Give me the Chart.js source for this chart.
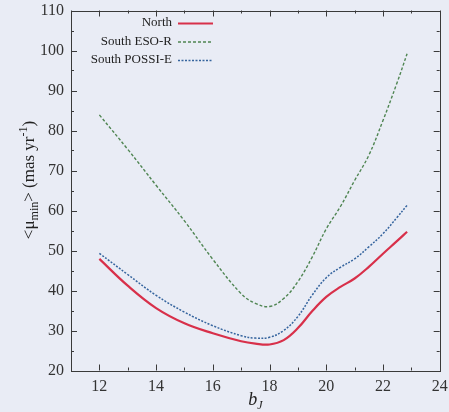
<!DOCTYPE html>
<html>
<head>
<meta charset="utf-8">
<script src="https://cdn.jsdelivr.net/npm/chart.js@4"></script>
<style>
  html, body { margin: 0; padding: 0; background: #e9ecf5; }
  #wrap { width: 449px; height: 412px; }
</style>
</head>
<body>
<div id="wrap"><canvas id="chart" width="449" height="412"></canvas></div>
<script>
// magnitude bins (b_J) and mean minimum proper motion for each survey
const bJ = [12, 13, 14, 15, 16, 17, 17.5, 18, 18.5, 19, 19.5, 20, 20.5, 21, 21.5, 22, 22.5, 22.85];
const north = [47.9, 41.2, 35.6, 31.8, 29.3, 27.3, 26.7, 26.5, 27.6, 30.6, 34.8, 38.4, 40.9, 43.0, 45.9, 49.2, 52.4, 54.7];
const southEsoR = [83.9, 75.3, 66.3, 57.4, 47.8, 39.2, 36.8, 36.0, 38.0, 42.2, 48.3, 55.4, 61.0, 67.5, 73.8, 82.5, 92.0, 99.2];
const southPossiE = [49.3, 44.0, 38.8, 34.6, 31.2, 28.7, 28.1, 28.3, 30.0, 33.5, 38.8, 43.2, 45.8, 47.9, 50.9, 54.2, 58.3, 61.3];
const xTicks = [12, 14, 16, 18, 20, 22, 24];
const yTicks = [20, 30, 40, 50, 60, 70, 80, 90, 100, 110];

const serif = '"Liberation Serif", "Times New Roman", Times, serif';
const axisColor = '#3a3a3a';

const toPoints = (ys) => ys.map((y, i) => ({ x: bJ[i], y }));

// gnuplot-like frame with inward ticks on all four sides
const framePlugin = {
  id: 'frame',
  afterDraw(chart) {
    const { ctx, chartArea: a, scales } = chart;
    ctx.save();
    ctx.strokeStyle = axisColor;
    ctx.lineWidth = 1;
    ctx.strokeRect(Math.round(a.left) + 0.5, Math.round(a.top) + 0.5,
      Math.round(a.right - a.left), Math.round(a.bottom - a.top));
    ctx.beginPath();
    for (let v = 11; v <= 24; v += 1) {
      const px = Math.round(scales.x.getPixelForValue(v)) + 0.5;
      const len = v % 2 === 0 ? 6 : 3;
      ctx.moveTo(px, a.bottom); ctx.lineTo(px, a.bottom - len);
      ctx.moveTo(px, a.top); ctx.lineTo(px, a.top + len);
    }
    for (let v = 20; v <= 110; v += 5) {
      const py = Math.round(scales.y.getPixelForValue(v)) + 0.5;
      const len = v % 10 === 0 ? 6 : 3;
      ctx.moveTo(a.left, py); ctx.lineTo(a.left + len, py);
      ctx.moveTo(a.right, py); ctx.lineTo(a.right - len, py);
    }
    ctx.stroke();
    ctx.restore();
  }
};

// axis titles with sub/superscripts, and a right-aligned key
const textPlugin = {
  id: 'texts',
  afterDraw(chart) {
    const { ctx, chartArea: a } = chart;
    ctx.save();
    ctx.fillStyle = '#222';
    ctx.textBaseline = 'alphabetic';

    // y title: <μ_min> (mas yr^-1)
    const parts = [
      { t: '<\u03bc', size: 17, dy: 0 },
      { t: 'min', size: 12, dy: 4 },
      { t: '> (mas yr', size: 17, dy: 0 },
      { t: '-1', size: 12, dy: -7 },
      { t: ')', size: 17, dy: 0 }
    ];
    let total = 0;
    parts.forEach((p) => { ctx.font = `${p.size}px ${serif}`; p.w = ctx.measureText(p.t).width; total += p.w; });
    ctx.translate(34, 180);
    ctx.rotate(-Math.PI / 2);
    let cx = -total / 2;
    parts.forEach((p) => {
      ctx.font = `${p.size}px ${serif}`;
      ctx.fillText(p.t, cx, p.dy);
      cx += p.w;
    });
    ctx.setTransform(1, 0, 0, 1, 0, 0);

    // x title: b_J
    ctx.font = `italic 18px ${serif}`;
    const bw = ctx.measureText('b').width;
    ctx.font = `italic 12px ${serif}`;
    const jw = ctx.measureText('J').width;
    const xc = (a.left + a.right) / 2 - (bw + jw) / 2;
    ctx.font = `italic 18px ${serif}`;
    ctx.fillText('b', xc, 405);
    ctx.font = `italic 12px ${serif}`;
    ctx.fillText('J', xc + bw, 409);

    // key
    ctx.font = `13px ${serif}`;
    ctx.textAlign = 'right';
    ctx.textBaseline = 'middle';
    chart.data.datasets.forEach((ds, i) => {
      const y = 23 + i * 18.5;
      ctx.fillStyle = '#222';
      ctx.fillText(ds.label, 172, y);
      ctx.strokeStyle = ds.borderColor;
      ctx.lineWidth = ds.borderWidth;
      ctx.setLineDash(ds.borderDash || []);
      ctx.beginPath();
      ctx.moveTo(178, y + 0.5);
      ctx.lineTo(213, y + 0.5);
      ctx.stroke();
    });
    ctx.restore();
  }
};

new Chart(document.getElementById('chart'), {
  type: 'line',
  data: {
    datasets: [
      {
        label: 'North',
        data: toPoints(north),
        borderColor: '#d8304a',
        borderWidth: 2.2,
        pointRadius: 0,
        tension: 0.4
      },
      {
        label: 'South ESO-R',
        data: toPoints(southEsoR),
        borderColor: '#4f8552',
        borderWidth: 1.4,
        borderDash: [3, 2],
        pointRadius: 0,
        tension: 0.4
      },
      {
        label: 'South POSSI-E',
        data: toPoints(southPossiE),
        borderColor: '#35649e',
        borderWidth: 1.5,
        borderDash: [2, 1.5],
        pointRadius: 0,
        tension: 0.4
      }
    ]
  },
  options: {
    responsive: false,
    animation: false,
    layout: { padding: { top: 10.5, right: 9.3, left: 0, bottom: 0 } },
    plugins: { legend: { display: false }, tooltip: { enabled: false } },
    scales: {
      x: {
        type: 'linear',
        min: 11,
        max: 24,
        afterBuildTicks: (s) => { s.ticks = xTicks.map((v) => ({ value: v })); },
        afterFit: (s) => { s.height = 41.5; s.paddingLeft = 0; s.paddingRight = 0; },
        grid: { display: false, drawTicks: false },
        border: { display: false },
        ticks: { color: '#333', font: { family: serif, size: 16 }, padding: 7, maxRotation: 0 }
      },
      y: {
        min: 20,
        max: 110,
        afterBuildTicks: (s) => { s.ticks = yTicks.map((v) => ({ value: v })); },
        afterFit: (s) => { s.width = 71; s.paddingTop = 0; s.paddingBottom = 0; },
        grid: { display: false, drawTicks: false },
        border: { display: false },
        ticks: { color: '#333', font: { family: serif, size: 16 }, padding: 7 }
      }
    }
  },
  plugins: [framePlugin, textPlugin]
});
</script>
</body>
</html>
